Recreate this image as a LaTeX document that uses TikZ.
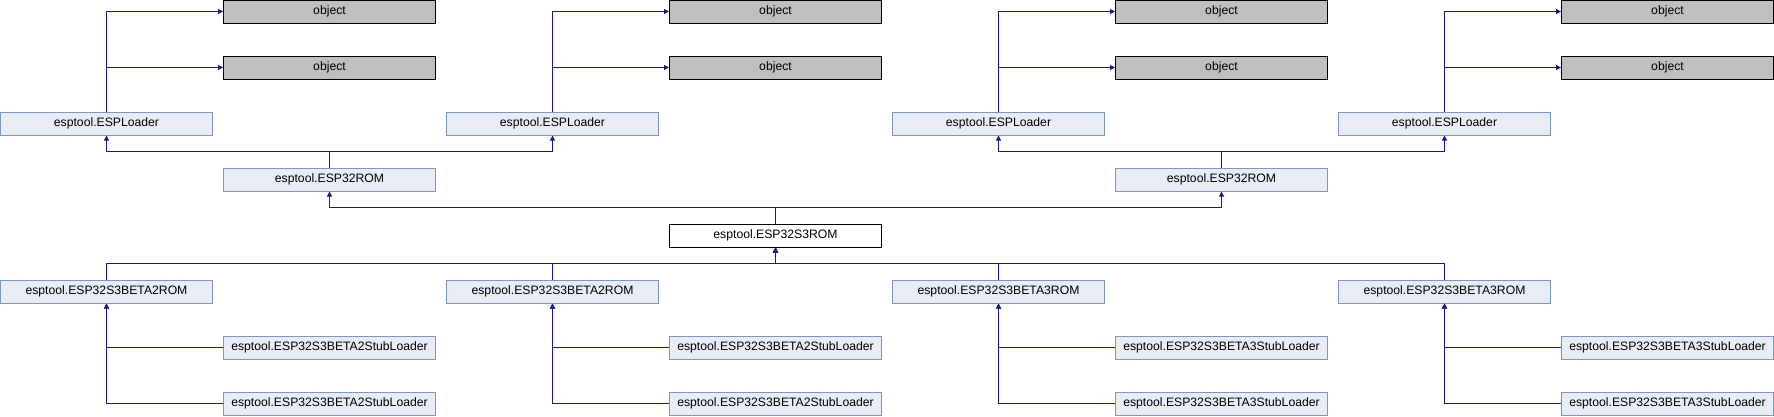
\documentclass[tikz,border=0pt]{standalone}
\usepackage{fontspec}
\setmainfont{Liberation Sans}
\usetikzlibrary{arrows.meta}
\definecolor{edgec}{RGB}{25,25,140}
\definecolor{boxfill}{RGB}{232,236,245}
\definecolor{boxline}{RGB}{124,149,202}
\definecolor{objfill}{RGB}{191,191,191}
\tikzset{
  cls/.style={draw=boxline, fill=boxfill, line width=1pt, minimum width=212pt, minimum height=23pt, inner sep=0pt, font=\fontsize{12.2}{14}\selectfont},
  objbox/.style={cls, draw=black, fill=objfill},
  mainbox/.style={cls, draw=black, fill=white},
  edge/.style={draw=edgec, line width=1pt, -{Triangle[length=5pt,width=5pt]}}
}
\begin{document}
\begin{tikzpicture}[x=1pt,y=-1pt]
\useasboundingbox (0,0) rectangle (1774,416);
\foreach \g/\v in {0/2,1/2,2/3,3/3}{
  \pgfmathsetmacro{\lx}{106.5+446*\g}
  \pgfmathsetmacro{\rx}{329.5+446*\g}
  \node[objbox] (obA\g) at (\rx,11.5) {object};
  \node[objbox] (obB\g) at (\rx,67.5) {object};
  \node[cls] (espl\g) at (\lx,123.5) {esptool.ESPLoader};
  \node[cls] (beta\g) at (\lx,291.5) {esptool.ESP32S3BETA\v ROM};
  \node[cls] (stubA\g) at (\rx,347.5) {esptool.ESP32S3BETA\v StubLoader};
  \node[cls] (stubB\g) at (\rx,403.5) {esptool.ESP32S3BETA\v StubLoader};
}
\node[cls] (rom0) at (329.5,179.5) {esptool.ESP32ROM};
\node[cls] (rom2) at (1221.5,179.5) {esptool.ESP32ROM};
\node[mainbox] (s3) at (775.5,235.5) {esptool.ESP32S3ROM};
\foreach \g in {0,1,2,3}{
  \draw[edge] (espl\g.north) |- (obA\g.west);
  \draw[edge] (espl\g.north) |- (obB\g.west);
  \draw[edge] (beta\g.north) -- ++(0,-16) -| (s3.south);
  \draw[edge] (stubA\g.west) -| (beta\g.south);
  \draw[edge] (stubB\g.west) -| (beta\g.south);
}
\draw[edge] (rom0.north) -- ++(0,-16.5) -| (espl0.south);
\draw[edge] (rom0.north) -- ++(0,-16.5) -| (espl1.south);
\draw[edge] (rom2.north) -- ++(0,-16.5) -| (espl2.south);
\draw[edge] (rom2.north) -- ++(0,-16.5) -| (espl3.south);
\draw[edge] (s3.north) -- ++(0,-16.5) -| (rom0.south);
\draw[edge] (s3.north) -- ++(0,-16.5) -| (rom2.south);
\end{tikzpicture}
\end{document}
